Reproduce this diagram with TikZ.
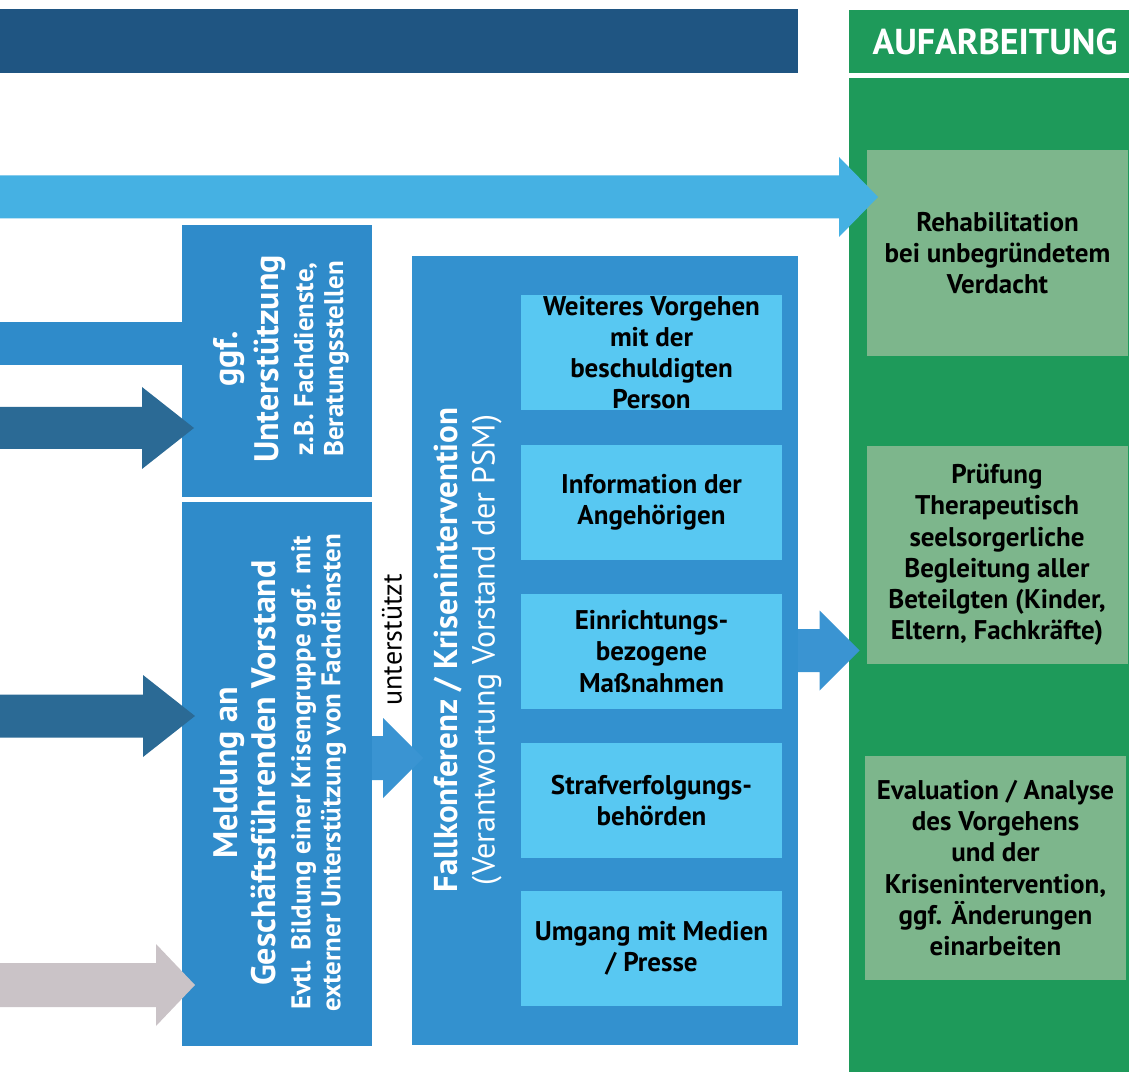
\documentclass[tikz,border=0pt]{standalone}
\usepackage{fontspec}
\setmainfont{PT Sans}
\usetikzlibrary{calc}
\definecolor{topblue}{HTML}{1F5582}
\definecolor{aufgreen}{HTML}{1E9A5A}
\definecolor{softgreen}{HTML}{7DB68C}
\definecolor{sky}{HTML}{45B1E3}
\definecolor{boxblue}{HTML}{2F8BCA}
\definecolor{fallblue}{HTML}{3391CF}
\definecolor{inblue}{HTML}{58C8F2}
\definecolor{darkarrow}{HTML}{2B6A95}
\definecolor{greyarrow}{HTML}{CAC3C7}
\definecolor{midarrow}{HTML}{3A94D2}
\newcommand\bigf{\fontsize{17}{17}\selectfont}
\tikzset{
    normal/.style={inner sep=0pt, outer sep=0pt},
    blk/.style={style=normal, fill=boxblue, minimum width=95pt}, % blue boxes on the left
    inbox/.style={style=normal, fill=inblue, minimum width=130.5pt, minimum height=57.5pt, align=center, font=\bfseries\fontsize{13.5}{15.6}\selectfont}, % steps of the Fallkonferenz
    grbox/.style={style=normal, fill=softgreen, minimum width=130.5pt, align=center, font=\bfseries\fontsize{13.5}{15.6}\selectfont}, % boxes in the Aufarbeitung column
    vtext/.style={style=normal, rotate=90, text=white, align=center, font=\bfseries\fontsize{13.5}{15}\selectfont}, % upright text
    fat/.style n args={3}{to path={let \p1=(\tikztostart), \p2=(\tikztotarget) in
        (\x1,{\y1+#1}) -- ({\x2-#2},{\y1+#1}) -- ({\x2-#2},{\y1+#3}) -- (\x2,\y1)
        -- ({\x2-#2},{\y1-#3}) -- ({\x2-#2},{\y1-#1}) -- (\x1,{\y1-#1}) -- cycle}} % block arrow
}

\begin{document}
\begin{tikzpicture}[x=0.5pt, y=-0.5pt]
    \useasboundingbox (0,0) rectangle (1129,1074);

    % header
    \node[style=normal, fill=topblue, minimum width=399pt, minimum height=32pt] (head) at (399,41) {};
    \node[style=normal, fill=aufgreen, minimum width=146pt, minimum height=31.5pt, text=white,
        font=\bfseries\fontsize{18}{20}\selectfont] (auf) at (995,41.5) {AUFARBEITUNG};
    \node[style=normal, fill=aufgreen, minimum width=140pt, minimum height=497pt] (col) at (989,575) {};

    % Aufarbeitung
    \node[grbox, minimum height=103pt] (rehab) at (997.5,253)
        {Rehabilitation\\bei unbegründetem\\Verdacht};
    \node[grbox, minimum height=109pt] (pruef) at (997,555)
        {Prüfung\\Therapeutisch\\seelsorgerliche\\Begleitung aller\\Beteilgten (Kinder,\\Eltern, Fachkräfte)};
    \node[grbox, minimum height=112pt] (eval) at (995.5,868)
        {Evaluation / Analyse\\des Vorgehens\\und der\\Krisenintervention,\\ggf. Änderungen\\einarbeiten};

    % left boxes
    \node[blk, minimum height=136pt] (ggf) at (277,361) {};
    \node[vtext] (ggftext) at (281,359)
        {{\bigf ggf.}\\[3.5pt]{\bigf Unterstützung}\\[2.5pt]z.B. Fachdienste,\\Beratungsstellen};
    \node[blk, minimum height=272pt] (meld) at (277,774) {};
    \node[vtext] (meldtext) at (280,773)
        {{\bigf Meldung an}\\[2pt]{\bigf Geschäftsführenden Vorstand}\\[2.5pt]Evtl. Bildung einer Krisengruppe ggf. mit\\externer Unterstützung von Fachdiensten};

    % Fallkonferenz
    \node[style=normal, fill=fallblue, minimum width=193pt, minimum height=394.5pt] (fall) at (605,650.5) {};
    \node[vtext, font=\fontsize{16}{18.5}\selectfont] (falltext) at (468,650)
        {{\bfseries\fontsize{16.5}{18.5}\selectfont Fallkonferenz / Krisenintervention}\\(Verantwortung Vorstand der PSM)};
    \node[inbox] (vorg) at (651.5,352.5) {Weiteres Vorgehen\\mit der\\beschuldigten\\Person};
    \node[inbox] (info) at (651.5,502.5) {Information der\\Angehörigen};
    \node[inbox] (einr) at (651.5,651.5) {Einrichtungs-\\bezogene\\Maßnahmen};
    \node[inbox] (straf) at (651.5,800.5) {Strafverfolgungs-\\behörden};
    \node[inbox] (medien) at (651.5,948.5) {Umgang mit Medien\\/ Presse};
    \node[style=normal, rotate=90, font=\fontsize{14}{16}\selectfont] (unter) at (392,640) {unterstützt};

    % arrows
    \coordinate (r0) at (0,197);
    \coordinate (b0) at (0,343.5);
    \coordinate (d1) at (0,428);
    \coordinate (d2) at (0,716);
    \coordinate (g1) at (0,985);
    \coordinate (u0) at ($(meld.east)+(0,-16)$);
    \fill[sky] (r0) to[fat={10.75pt}{19.5pt}{20pt}] ($(rehab.west |- r0)+(11,0)$);
    \draw[boxblue, line width=21.5pt] (b0) -- (b0 -| ggf.west);
    \fill[darkarrow] (d1) to[fat={10.5pt}{26pt}{20.5pt}] ($(ggf.west |- d1)+(12,0)$);
    \fill[darkarrow] (d2) to[fat={10.75pt}{26pt}{20.5pt}] ($(meld.west |- d2)+(13,0)$);
    \fill[greyarrow] (g1) to[fat={11pt}{19.5pt}{20.5pt}] ($(meld.west |- g1)+(13,0)$);
    \fill[midarrow] (u0) to[fat={11pt}{20pt}{20pt}] ($(fall.west |- u0)+(11,0)$);
    \fill[midarrow] (fall.east) to[fat={10.75pt}{20pt}{20pt}] ($(pruef.west |- fall.east)+(-7,0)$);
\end{tikzpicture}
\end{document}
